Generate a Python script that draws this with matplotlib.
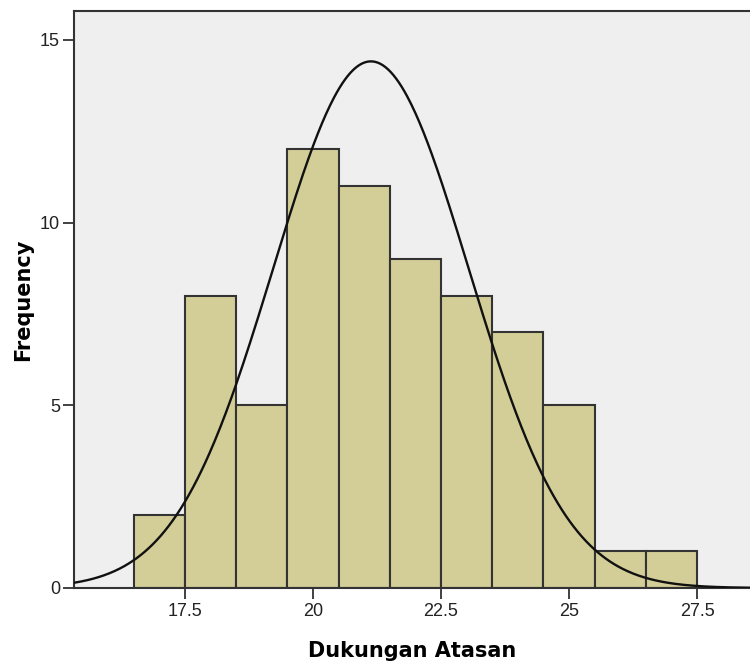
import numpy as np
import matplotlib
matplotlib.use("Agg")
import matplotlib.pyplot as plt

# histogram data (bin left edges, width 1)
bin_left = [16.5, 17.5, 18.5, 19.5, 20.5, 21.5, 22.5, 23.5, 24.5, 25.5, 26.5]
counts = [2, 8, 5, 12, 11, 9, 8, 7, 5, 1, 1]
bin_width = 1.0

# fitted normal curve parameters
mean = 21.13
std = 1.91
n_total = sum(counts)

x_ticks = [17.5, 20, 22.5, 25, 27.5]
x_tick_labels = ["17.5", "20", "22.5", "25", "27.5"]
y_ticks = [0, 5, 10, 15]
y_tick_labels = ["0", "5", "10", "15"]

fig = plt.figure(figsize=(7.5, 6.7), dpi=100)
ax = fig.add_axes([74 / 750, 82 / 670, 676 / 750, 577 / 670])
ax.set_facecolor("#efefef")

ax.bar(bin_left, counts, width=bin_width, align="edge",
       color="#d3ce98", edgecolor="#333333", linewidth=1.5, zorder=2)

xlo, xhi = 15.33, 28.535
xs = np.linspace(xlo, xhi, 500)
ys = n_total * bin_width / (std * np.sqrt(2 * np.pi)) * np.exp(-0.5 * ((xs - mean) / std) ** 2)
ax.plot(xs, ys, color="#111111", linewidth=1.7, zorder=3)

ax.set_xlim(xlo, xhi)
ax.set_ylim(0, 15.79)

ax.set_xticks(x_ticks)
ax.set_xticklabels(x_tick_labels)
ax.set_yticks(y_ticks)
ax.set_yticklabels(y_tick_labels)
for lab in ax.get_xticklabels() + ax.get_yticklabels():
    lab.set_family("Liberation Sans")
    lab.set_fontsize(13)
    lab.set_color("#222222")
ax.tick_params(axis="both", length=8, width=1.3, color="#333333")
ax.tick_params(axis="x", pad=3)
ax.tick_params(axis="y", pad=2)

ax.spines["right"].set_visible(False)
for s in ["left", "top", "bottom"]:
    ax.spines[s].set_linewidth(1.5)
    ax.spines[s].set_color("#333333")

ax.set_xlabel("Dukungan Atasan", fontsize=15, fontweight="bold", family="DejaVu Sans", labelpad=15)
ax.set_ylabel("Frequency", fontsize=15, fontweight="bold", family="DejaVu Sans", labelpad=5)

fig.savefig("out.png", dpi=100)
